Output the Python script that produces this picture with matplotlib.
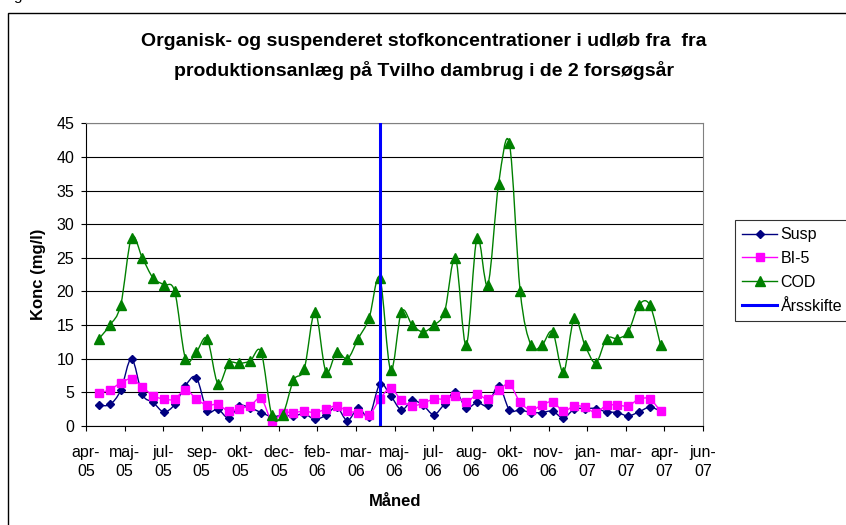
import numpy as np
import matplotlib
matplotlib.use("Agg")
import matplotlib.pyplot as plt
import matplotlib.dates as mdates
from matplotlib.path import Path
from matplotlib.patches import PathPatch, Rectangle
from matplotlib.lines import Line2D

plt.rcParams['font.family'] = ['Liberation Sans', 'DejaVu Sans']

# prøvetagningsdatoer (ca. hver 14. dag)
datoer = [
    "2005-04-25", "2005-05-09", "2005-05-23", "2005-06-06", "2005-06-20",
    "2005-07-04", "2005-07-18", "2005-08-01", "2005-08-15", "2005-08-29",
    "2005-09-12", "2005-09-26", "2005-10-10", "2005-10-24", "2005-11-07",
    "2005-11-21", "2005-12-05", "2005-12-19", "2006-01-02", "2006-01-16",
    "2006-01-30", "2006-02-13", "2006-02-27", "2006-03-13", "2006-03-27",
    "2006-04-10", "2006-04-24", "2006-05-08", "2006-05-22", "2006-06-05",
    "2006-06-19", "2006-07-03", "2006-07-17", "2006-07-31", "2006-08-14",
    "2006-08-28", "2006-09-11", "2006-09-25", "2006-10-09", "2006-10-23",
    "2006-11-06", "2006-11-20", "2006-12-04", "2006-12-18", "2007-01-01",
    "2007-01-15", "2007-01-29", "2007-02-12", "2007-02-26", "2007-03-12",
    "2007-03-26", "2007-04-09", "2007-04-23",
]

susp = [3.1, 3.2, 5.3, 10.0, 4.7, 3.5, 2.1, 3.2, 6.0, 7.2,
        2.3, 2.5, 1.2, 3.0, 2.7, 2.0, 1.4, 1.6, 1.5, 1.8,
        1.0, 1.6, 2.8, 0.8, 2.7, 1.4, 6.2, 4.5, 2.4, 3.8,
        3.1, 1.7, 3.3, 5.1, 2.7, 3.5, 3.1, 6.0, 2.4, 2.4,
        2.0, 2.0, 2.2, 1.2, 2.5, 2.6, 2.6, 2.1, 2.0, 1.5,
        2.1, 2.8, 2.2]

bi5 = [4.9, 5.4, 6.4, 7.0, 5.8, 4.5, 4.0, 4.0, 5.4, 4.0,
       3.1, 3.2, 2.2, 2.6, 3.0, 4.1, 0.8, 2.0, 2.0, 2.2,
       2.0, 2.5, 3.0, 2.2, 2.0, 1.6, 4.0, 5.6, 3.8, 3.0,
       3.4, 4.0, 4.0, 4.4, 3.5, 4.7, 4.0, 5.3, 6.2, 3.5,
       2.4, 3.1, 3.6, 2.2, 3.0, 2.8, 2.0, 3.1, 3.1, 3.0,
       4.0, 4.0, 2.2]

cod = [13, 15, 18, 28, 25, 22, 21, 20, 10, 11,
       13, 6.3, 9.3, 9.3, 9.7, 11, 1.6, 1.7, 6.8, 8.5,
       17, 8.1, 11, 10, 13, 16, 22, 8.3, 17, 15,
       14, 15, 17, 25, 12, 28, 21, 36, 42, 20,
       12, 12, 14, 8, 16, 12, 9.4, 13, 13, 14,
       18, 18, 12]

aarsskifte_x = ["2006-04-24", "2006-04-24"]
aarsskifte_y = [0, 45]

x_labels = ["apr-\n05", "maj-\n05", "jul-\n05", "sep-\n05", "okt-\n05",
            "dec-\n05", "feb-\n06", "mar-\n06", "maj-\n06", "jul-\n06",
            "aug-\n06", "okt-\n06", "nov-\n06", "jan-\n07", "mar-\n07",
            "apr-\n07", "jun-\n07"]

title_lines = ["Organisk- og suspenderet stofkoncentrationer i udløb fra  fra",
               "produktionsanlæg på Tvilho dambrug i de 2 forsøgsår"]


def to_num(d):
    return mdates.date2num(np.array(d, dtype="datetime64[D]"))


def smooth_path(x, y):
    # udglattet linje som i Excel (Bezier gennem punkterne)
    pts = np.column_stack([x, y])
    n = len(pts)
    verts = [pts[0]]
    codes = [Path.MOVETO]
    for i in range(n - 1):
        p0 = pts[max(i - 1, 0)]
        p1 = pts[i]
        p2 = pts[i + 1]
        p3 = pts[min(i + 2, n - 1)]
        verts += [p1 + (p2 - p0) / 6, p2 - (p3 - p1) / 6, p2]
        codes += [Path.CURVE4] * 3
    return Path(verts, codes)


fig = plt.figure(figsize=(8.46, 5.25), dpi=100)
ax = fig.add_axes([86 / 846, 1 - 426 / 525, 617 / 846, 302.7 / 525])

x = to_num(datoer)
series = [
    (susp, "#000080", "D", 4.5, "Susp"),
    (bi5, "#FF00FF", "s", 6, "BI-5"),
    (cod, "#008000", "^", 6.5, "COD"),
]
handles = []
for k, (y, color, marker, ms, label) in enumerate(series):
    ax.add_patch(PathPatch(smooth_path(x, np.array(y, float)), fill=False,
                           edgecolor=color, lw=1.0, zorder=3 + k))
    ax.plot(x, y, ls="none", marker=marker, color=color, ms=ms, zorder=3 + k)
    handles.append(Line2D([], [], color=color, marker=marker, ms=ms, lw=1.0, label=label))

ax.plot(to_num(aarsskifte_x), aarsskifte_y, color="#0000FF", lw=2.2, zorder=7)
handles.append(Line2D([], [], color="#0000FF", lw=2.2, label="Årsskifte"))

# akser
x0 = to_num("2005-04-08")
ax.set_xlim(x0, x0 + 800)
ax.set_xticks([x0 + 50 * k for k in range(len(x_labels))])
ax.set_xticklabels(x_labels, linespacing=1.38)
ax.set_ylim(0, 45)
ax.set_yticks(range(0, 46, 5))

ax.yaxis.grid(True, color="black", lw=0.8)
ax.set_axisbelow(True)
for s in ["top", "right"]:
    ax.spines[s].set_color("#808080")
for s in ["left", "bottom"]:
    ax.spines[s].set_color("black")
ax.tick_params(axis="both", direction="out", length=3.6, width=0.8, labelsize=11.5)
ax.tick_params(axis="y", pad=5)
ax.tick_params(axis="x", pad=10)

fig.text(424 / 846, 1 - 42 / 525, title_lines[0], ha="center", va="center",
         fontsize=14, fontweight="bold")
fig.text(424 / 846, 1 - 71 / 525, title_lines[1], ha="center", va="center",
         fontsize=14, fontweight="bold")
fig.text(38 / 846, 1 - 274 / 525, "Konc (mg/l)", rotation=90, ha="center",
         va="center", fontsize=12, fontweight="bold")
fig.text(395 / 846, 1 - 501 / 525, "Måned", ha="center", va="center",
         fontsize=12, fontweight="bold")

leg = fig.legend(handles=handles, loc="upper left",
                 bbox_to_anchor=(735 / 846, 1 - 220 / 525), fontsize=11.5,
                 frameon=True, fancybox=False, edgecolor="black",
                 handlelength=2.2, handletextpad=0.2, labelspacing=0.55,
                 borderpad=0.45, borderaxespad=0)
leg.get_frame().set_linewidth(0.8)

# ramme om diagramområdet
fig.add_artist(Rectangle((8 / 846, -0.1), 2, 1 - 13 / 525 + 0.1,
                         transform=fig.transFigure, fill=False,
                         edgecolor="black", lw=1.0, clip_on=False))
fig.text(13 / 846, 1.0, "g", ha="left", va="baseline", fontsize=11)

fig.savefig("out.png", dpi=100)
